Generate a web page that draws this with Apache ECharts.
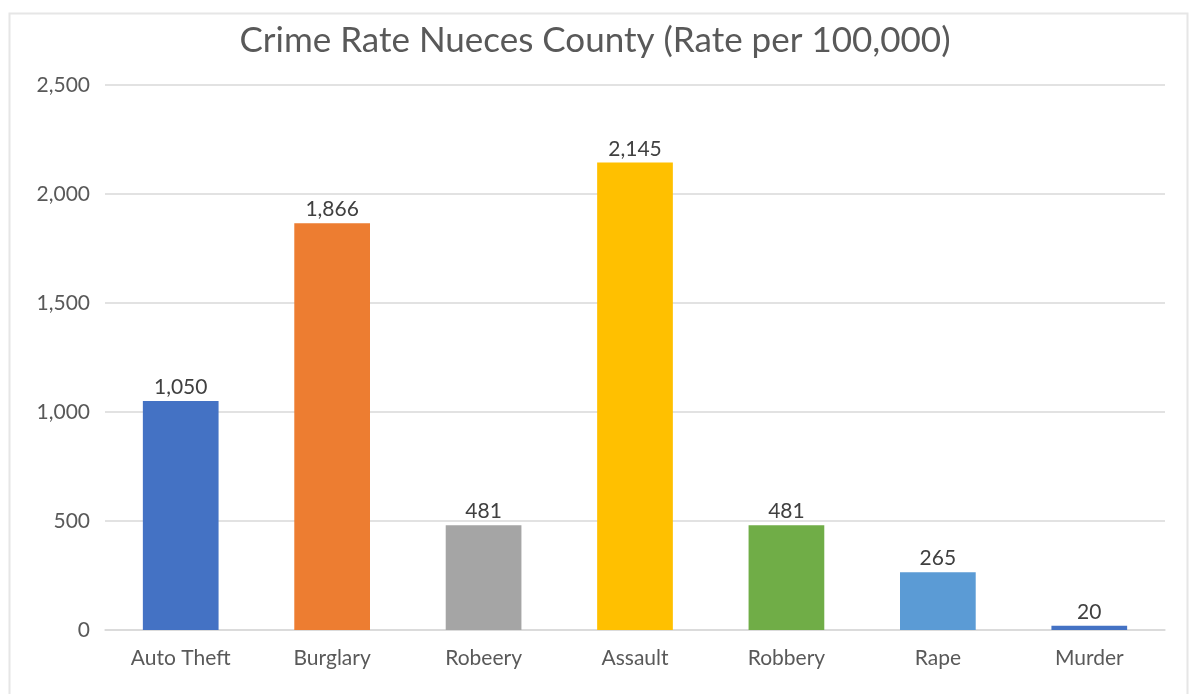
<!DOCTYPE html>
<html>
<head>
<meta charset="utf-8">
<script src="https://cdn.jsdelivr.net/npm/echarts@6/dist/echarts.min.js"></script>
<style>
  html, body { margin: 0; padding: 0; background: #fff; }
  #chart { width: 1190px; height: 694px; }
</style>
</head>
<body>
<div id="chart"></div>
<script>
// 数据
const categories = ['Auto Theft', 'Burglary', 'Robeery', 'Assault', 'Robbery', 'Rape', 'Murder']
const rates = [1050, 1866, 481, 2145, 481, 265, 20]
const barColors = ['#4472C4', '#ED7D31', '#A5A5A5', '#FFC000', '#70AD47', '#5B9BD5', '#4472C4']
const yTicks = { min: 0, max: 2500, interval: 500 }

const fmt = v => Number(v).toLocaleString('en-US')
const font = 'Lato, "Open Sans", sans-serif'

const chart = echarts.init(document.getElementById('chart'))
chart.setOption({
  animation: false,
  title: {
    text: 'Crime Rate Nueces County (Rate per 100,000)',
    left: 'center',
    top: 18,
    textStyle: { fontFamily: font, fontSize: 35, fontWeight: 'normal', color: '#595959' }
  },
  graphic: [{
    type: 'rect',
    shape: { x: 9.5, y: 13.5, width: 1178, height: 700 },
    style: { fill: 'none', stroke: '#e6e6e6', lineWidth: 2 },
    silent: true
  }],
  grid: { left: 105, right: 25, top: 85, bottom: 64 },
  xAxis: {
    type: 'category',
    data: categories,
    axisTick: { show: false },
    axisLine: { lineStyle: { color: '#d9d9d9', width: 1.5 } },
    axisLabel: { fontFamily: font, fontSize: 21, color: '#595959', margin: 18 }
  },
  yAxis: {
    type: 'value',
    min: yTicks.min,
    max: yTicks.max,
    interval: yTicks.interval,
    axisLine: { show: false },
    axisTick: { show: false },
    splitLine: { lineStyle: { color: '#d9d9d9', width: 1.5 } },
    axisLabel: { fontFamily: font, fontSize: 21, color: '#595959', margin: 15, formatter: fmt }
  },
  series: [{
    type: 'bar',
    barWidth: '50%',
    data: rates.map((v, i) => ({ value: v, itemStyle: { color: barColors[i] } })),
    label: {
      show: true,
      position: 'top',
      distance: 3,
      fontFamily: font,
      fontSize: 21,
      color: '#404040',
      formatter: p => fmt(p.value)
    }
  }]
})
</script>
</body>
</html>
